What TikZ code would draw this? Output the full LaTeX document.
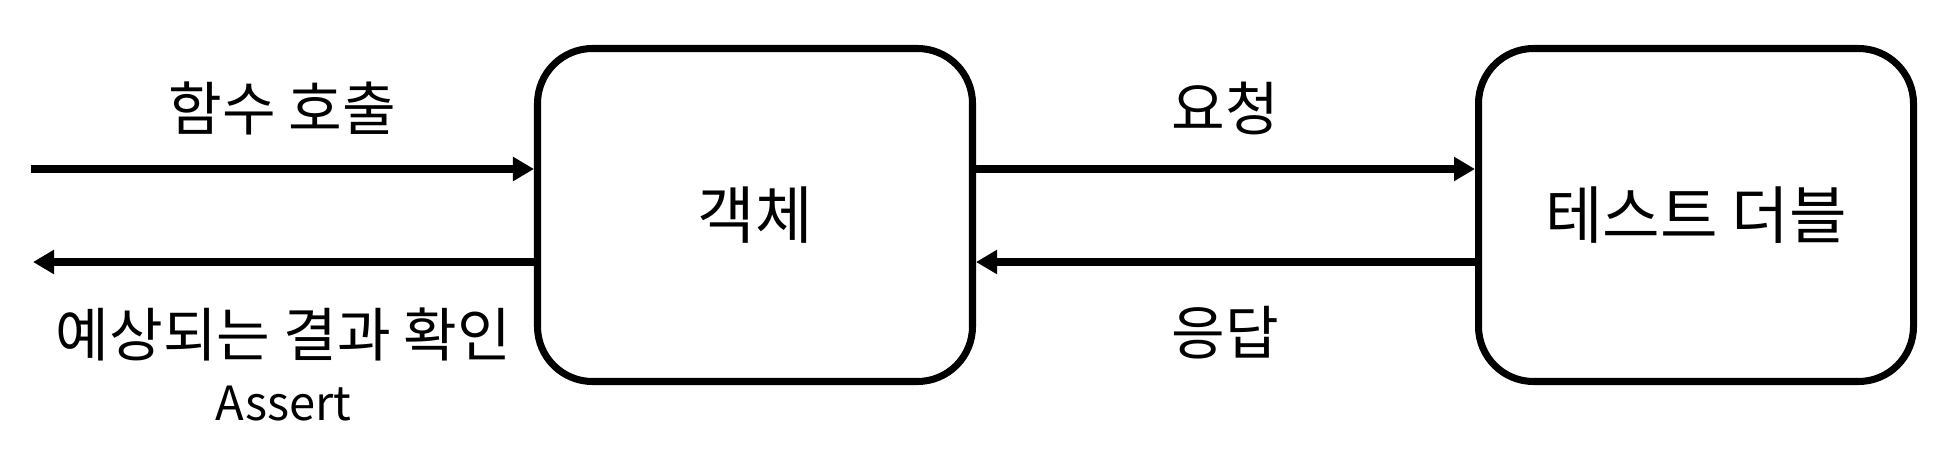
\documentclass[tikz,border=0pt]{standalone}
\usepackage{fontspec}
\setmainfont{Noto Sans CJK KR}
\usetikzlibrary{arrows.meta,positioning,calc}
\tikzset{
  block/.style = {draw, line width=2pt, rectangle, rounded corners=0.55cm,
                  minimum width=4.35cm, minimum height=3.33cm, align=center,
                  font=\fontsize{17.8}{21}\selectfont},
  sig/.style   = {-{Triangle[length=2.1mm,width=2.3mm]}, line width=2.3pt},
  lbl/.style   = {font=\fontsize{16.6}{20}\selectfont},
}
\begin{document}
\begin{tikzpicture}[x=1cm,y=1cm]
\useasboundingbox (0,0) rectangle (19.48,4.5);
\node[block] (obj) at (7.55,2.35) {객체};
\node[block] (dbl) at (16.96,2.35) {테스트 더블};
\coordinate (src) at (0.31,2.81);
\coordinate (dst) at (0.33,1.88);
\draw[sig] (src) -- (obj.west |- src) node[midway,yshift=0.61cm,lbl] {함수 호출};
\draw[sig] (obj.west |- dst) -- (dst) node[midway,yshift=-0.72cm,lbl] (chk) {예상되는 결과 확인};
\node[below=-0.03cm of chk,font=\fontsize{13.4}{16}\selectfont] (asrt) {Assert};
\draw[sig] ([yshift=0.46cm]obj.east) -- ([yshift=0.46cm]dbl.west)
  node[midway,yshift=0.61cm,lbl] {요청};
\draw[sig] ([yshift=-0.47cm]dbl.west) -- ([yshift=-0.47cm]obj.east)
  node[midway,yshift=-0.71cm,lbl] {응답};
\end{tikzpicture}
\end{document}
